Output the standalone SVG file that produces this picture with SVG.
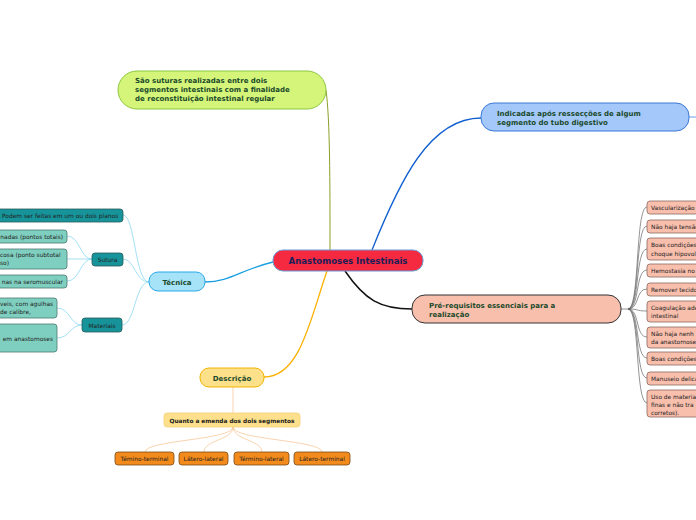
<svg xmlns="http://www.w3.org/2000/svg" width="696" height="520" viewBox="0 0 696 520">
<style>
text{font-family:"DejaVu Sans","Liberation Sans",sans-serif}
.main{font-size:8.6px;font-weight:bold;fill:#1a1f5a}
.l1{font-size:7px;font-weight:bold;fill:#1b4a2a}
.sm{font-size:5.9px;fill:#222}
.smb{font-size:5.8px;font-weight:bold;fill:#1a1a1a}
.c{fill:none}
.pk{fill:#f9bfad;stroke:#8a6a60;stroke-width:0.8}
.tl{fill:#7fcfc0;stroke:#4a7a72;stroke-width:0.8}
.td{fill:#17939a;stroke:#2a5a5a;stroke-width:0.8}
.or{fill:#f28a1c;stroke:#7a4a1a;stroke-width:0.8}
</style>
<rect width="696" height="520" fill="#ffffff"/>
<g id="connectors" class="c">
<path d="M330,250 C330,180 330,120 326,90" stroke="#8aa028" stroke-width="1"/>
<path d="M372,250 C400,180 430,118 481,118" stroke="#1060d0" stroke-width="1.3"/>
<path d="M689,117 L696,117" stroke="#6aa0e8" stroke-width="1"/>
<path d="M345,271 C365,300 380,309 412,309" stroke="#111" stroke-width="1.5"/>
<path d="M273,262 C240,270 230,282 205,282" stroke="#1aa0e0" stroke-width="1.3"/>
<path d="M327,271 C310,320 300,377 264,377" stroke="#fbb000" stroke-width="1.3"/>
<g stroke="#666" stroke-width="0.7">
<path d="M621,309 L628,309"/>
<path d="M628,309 C640,309 635,207 647,207"/>
<path d="M628,309 C640,309 635,226 647,226"/>
<path d="M628,309 C640,309 635,249 647,249"/>
<path d="M628,309 C640,309 635,270 647,270"/>
<path d="M628,309 C640,309 635,289 647,289"/>
<path d="M628,309 C640,309 635,311 647,311"/>
<path d="M628,309 C640,309 635,337 647,337"/>
<path d="M628,309 C640,309 635,358 647,358"/>
<path d="M628,309 C640,309 635,378 647,378"/>
<path d="M628,309 C640,309 635,403 647,403"/>
</g>
<g stroke="#8ad8f2" stroke-width="0.8">
<path d="M149,282 C135,282 135,215 123,215"/>
<path d="M149,282 C135,282 135,259 123,259"/>
<path d="M149,282 C135,282 135,325 122,325"/>
<path d="M92,259 C80,259 80,236 67,236"/>
<path d="M92,259 C80,259 80,259 67,259"/>
<path d="M92,259 C80,259 80,281 67,281"/>
<path d="M82,325 C70,325 70,308 57,308"/>
<path d="M82,325 C70,325 70,338 57,338"/>
</g>
<g stroke="#f8c89a" stroke-width="0.8">
<path d="M233,387 L233,413"/>
<path d="M233,427 C233,440 145,440 145,452"/>
<path d="M233,427 C233,440 204,440 204,452"/>
<path d="M233,427 C233,440 262,440 262,452"/>
<path d="M233,427 C233,440 322,440 322,452"/>
</g>
</g>
<g id="central">
<rect x="273" y="250" width="150" height="21" rx="10" fill="#f5293f" stroke="#6a9ad8" stroke-width="1"/>
<text x="348" y="263.5" text-anchor="middle" class="main">Anastomoses Intestinais</text>
</g>
<g id="definicao">
<rect x="118" y="71" width="208" height="38" rx="19" fill="#d4f57a" stroke="#8cc63f" stroke-width="1"/>
<text class="l1" font-size="6.4"><tspan x="135" y="83">São suturas realizadas entre dois</tspan><tspan x="135" y="92">segmentos intestinais com a finalidade</tspan><tspan x="135" y="101">de reconstituição intestinal regular</tspan></text>
</g>
<g id="indicadas">
<rect x="481" y="103" width="208" height="28" rx="13" fill="#a4c8fa" stroke="#3a78d8" stroke-width="1"/>
<text class="l1" font-size="6.4"><tspan x="497" y="115.5">Indicadas após ressecções de algum</tspan><tspan x="497" y="124.5">segmento do tubo digestivo</tspan></text>
</g>
<g id="prereq">
<rect x="412" y="295" width="209" height="28" rx="13" fill="#f9bfad" stroke="#333" stroke-width="1"/>
<text class="l1" font-size="6.4"><tspan x="429" y="307.5">Pré-requisitos essenciais para a</tspan><tspan x="429" y="316.5">realização</tspan></text>
</g>
<g id="pr1"><rect x="647" y="201" width="60" height="13" rx="3" class="pk"/><text x="651" y="209.5" class="sm">Vascularização</text></g>
<g id="pr2"><rect x="647" y="220" width="60" height="13" rx="3" class="pk"/><text x="651" y="228.5" class="sm">Não haja tensão</text></g>
<g id="pr3"><rect x="647" y="238" width="60" height="22" rx="3" class="pk"/><text class="sm"><tspan x="651" y="246.5">Boas condições</tspan><tspan x="651" y="255.5">choque hipovol</tspan></text></g>
<g id="pr4"><rect x="647" y="264" width="60" height="13" rx="3" class="pk"/><text x="651" y="272.5" class="sm">Hemostasia no</text></g>
<g id="pr5"><rect x="647" y="283" width="60" height="13" rx="3" class="pk"/><text x="651" y="291.5" class="sm">Remover tecido</text></g>
<g id="pr6"><rect x="647" y="301" width="60" height="21" rx="3" class="pk"/><text class="sm"><tspan x="651" y="309.5">Coagulação ade</tspan><tspan x="651" y="318">intestinal</tspan></text></g>
<g id="pr7"><rect x="647" y="327" width="60" height="21" rx="3" class="pk"/><text class="sm"><tspan x="651" y="335.5">Não haja nenh</tspan><tspan x="651" y="344">da anastomose</tspan></text></g>
<g id="pr8"><rect x="647" y="352" width="60" height="13" rx="3" class="pk"/><text x="651" y="360.5" class="sm">Boas condições</text></g>
<g id="pr9"><rect x="647" y="372" width="60" height="13" rx="3" class="pk"/><text x="651" y="380.5" class="sm">Manuseio delica</text></g>
<g id="pr10"><rect x="647" y="390" width="60" height="27" rx="3" class="pk"/><text class="sm"><tspan x="651" y="398.5">Uso de materia</tspan><tspan x="651" y="406.5">finas e não tra</tspan><tspan x="651" y="414.5">corretos).</tspan></text></g>
<g id="tecnica">
<rect x="149" y="272" width="56" height="19" rx="9" fill="#a6e2f8" stroke="#2aa8e8" stroke-width="1"/>
<text x="177" y="284.5" text-anchor="middle" class="l1" font-size="7.2" fill="#1a3a4a">Técnica</text>
</g>
<g id="planos"><rect x="-10" y="209" width="133" height="13" rx="3" class="td"/><text x="2" y="217.5" class="sm" fill="#0a1a1a">Podem ser feitas em um ou dois planos</text></g>
<g id="sutura"><rect x="92" y="253" width="31" height="13" rx="3" class="td"/><text x="107.5" y="261.8" text-anchor="middle" class="sm" font-size="6.2" fill="#0a1a1a">Sutura</text></g>
<g id="materiais"><rect x="82" y="318" width="40" height="14" rx="3" class="td"/><text x="102" y="327.5" text-anchor="middle" class="sm" font-size="6.2" fill="#0a1a1a">Materiais</text></g>
<g id="s1"><rect x="-10" y="230" width="77" height="13" rx="3" class="tl"/><text x="63" y="238.5" text-anchor="end" class="sm">nadas (pontos totais)</text></g>
<g id="s2"><rect x="-10" y="249" width="77" height="20" rx="3" class="tl"/><text class="sm"><tspan x="0" y="257">cosa (ponto subtotal</tspan><tspan x="0" y="265">so)</tspan></text></g>
<g id="s3"><rect x="-10" y="275" width="77" height="13" rx="3" class="tl"/><text x="63" y="283.5" text-anchor="end" class="sm">nas na seromuscular</text></g>
<g id="m1"><rect x="-10" y="298" width="67" height="20" rx="3" class="tl"/><text class="sm"><tspan x="0" y="306">veis, com agulhas</tspan><tspan x="0" y="314">de calibre,</tspan></text></g>
<g id="m2"><rect x="-10" y="324" width="67" height="28" rx="3" class="tl"/><text x="53" y="340.5" text-anchor="end" class="sm">em anastomoses</text></g>
<g id="descricao">
<rect x="200" y="368" width="64" height="19" rx="9" fill="#fde08a" stroke="#f0b400" stroke-width="1"/>
<text x="232" y="380.5" text-anchor="middle" class="l1" font-size="7.2">Descrição</text>
</g>
<g id="emenda"><rect x="164" y="413" width="136" height="14" rx="3" fill="#fde08c" stroke="#f8d07a" stroke-width="0.8"/><text x="232" y="422.5" text-anchor="middle" class="smb">Quanto a emenda dos dois segmentos</text></g>
<g id="e1"><rect x="115" y="452" width="59" height="13" rx="3" class="or"/><text x="144.5" y="460.8" text-anchor="middle" class="sm" fill="#2a1a0a">Témino-terminal</text></g>
<g id="e2"><rect x="179" y="452" width="49" height="13" rx="3" class="or"/><text x="203.5" y="460.8" text-anchor="middle" class="sm" fill="#2a1a0a">Látero-lateral</text></g>
<g id="e3"><rect x="234" y="452" width="55" height="13" rx="3" class="or"/><text x="261.5" y="460.8" text-anchor="middle" class="sm" fill="#2a1a0a">Término-lateral</text></g>
<g id="e4"><rect x="294" y="452" width="56" height="13" rx="3" class="or"/><text x="322" y="460.8" text-anchor="middle" class="sm" fill="#2a1a0a">Látero-terminal</text></g>
</svg>
